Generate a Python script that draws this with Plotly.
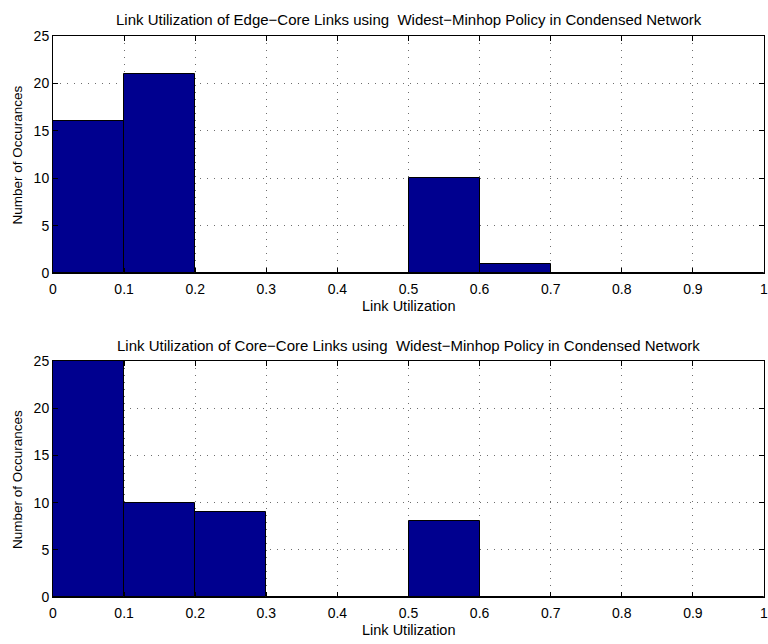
import plotly.graph_objects as go

# Histogram bins (link utilization), 10 equal bins from 0 to 1
bin_centers = [0.05, 0.15, 0.25, 0.35, 0.45, 0.55, 0.65, 0.75, 0.85, 0.95]
bin_width = 0.1

edge_core_counts = [16, 21, 0, 0, 0, 10, 1, 0, 0, 0]
core_core_counts = [27, 10, 9, 0, 0, 8, 0, 0, 0, 0]

x_ticks = [0, 0.1, 0.2, 0.3, 0.4, 0.5, 0.6, 0.7, 0.8, 0.9, 1]
x_tick_labels = ["0", "0.1", "0.2", "0.3", "0.4", "0.5", "0.6", "0.7", "0.8", "0.9", "1"]
y_ticks = [0, 5, 10, 15, 20, 25]

title_top = "Link Utilization of Edge\u2212Core Links using  Widest\u2212Minhop Policy in Condensed Network"
title_bottom = "Link Utilization of Core\u2212Core Links using  Widest\u2212Minhop Policy in Condensed Network"
x_label = "Link Utilization"
y_label = "Number of Occurances"

BAR_COLOR = "rgb(0,0,143)"
FONT = "Liberation Sans, Arial, Helvetica, sans-serif"
W, H = 768, 644

# plot-area pixel boxes (top, bottom) for the two panels
TOP_PANEL = (36, 273)
BOT_PANEL = (361, 597)


def py(px):
    """pixel row -> paper fraction"""
    return 1 - px / H


fig = go.Figure()
fig.add_trace(go.Bar(x=bin_centers, y=edge_core_counts, width=bin_width,
                     marker=dict(color=BAR_COLOR, line=dict(color="black", width=1)),
                     xaxis="x", yaxis="y", showlegend=False))
fig.add_trace(go.Bar(x=bin_centers, y=core_core_counts, width=bin_width,
                     marker=dict(color=BAR_COLOR, line=dict(color="black", width=1)),
                     xaxis="x2", yaxis="y2", showlegend=False))

grid = dict(showgrid=True, gridcolor="rgb(110,110,110)", griddash="1px,6px", gridwidth=1)
frame = dict(ticks="inside", ticklen=5, tickcolor="black", tickwidth=1,
             showline=True, linecolor="black", linewidth=1, mirror="ticks",
             zeroline=False, automargin=False)

xax = dict(range=[0, 1.0000001], tickvals=x_ticks, ticktext=x_tick_labels,
           tickfont=dict(size=14, color="black"), ticklabelstandoff=3,
           ticklabeloverflow="allow", **grid, **frame)
yax = dict(range=[0, 25], tickvals=y_ticks,
           tickfont=dict(size=14, color="black"), ticklabelstandoff=0, **grid, **frame)

annotations = []
for title, (top, bot) in ((title_top, TOP_PANEL), (title_bottom, BOT_PANEL)):
    annotations.append(dict(text=title, xref="paper", yref="paper", x=0.5, y=py(top - 16),
                            xanchor="center", yanchor="middle", showarrow=False,
                            font=dict(size=15, color="black")))
    annotations.append(dict(text=x_label, xref="paper", yref="paper", x=0.5, y=py(bot + 33),
                            xanchor="center", yanchor="middle", showarrow=False,
                            font=dict(size=14.5, color="black")))
    annotations.append(dict(text=y_label, xref="paper", yref="paper", x=-53 / (W - 57) + 17 / (W - 57),
                            y=py((top + bot) / 2), xanchor="center", yanchor="middle",
                            textangle=-90, showarrow=False,
                            font=dict(size=13.5, color="black")))

fig.update_layout(
    width=W, height=H,
    margin=dict(l=53, r=4, t=0, b=0),
    paper_bgcolor="white", plot_bgcolor="white",
    font=dict(family=FONT, color="black"),
    bargap=0,
    xaxis=dict(xax, domain=[0, 1], anchor="y"),
    yaxis=dict(yax, domain=[py(TOP_PANEL[1]), py(TOP_PANEL[0])], anchor="x"),
    xaxis2=dict(xax, domain=[0, 1], anchor="y2"),
    yaxis2=dict(yax, domain=[py(BOT_PANEL[1]), py(BOT_PANEL[0])], anchor="x2"),
    annotations=annotations,
)

fig.write_html("out.html")
